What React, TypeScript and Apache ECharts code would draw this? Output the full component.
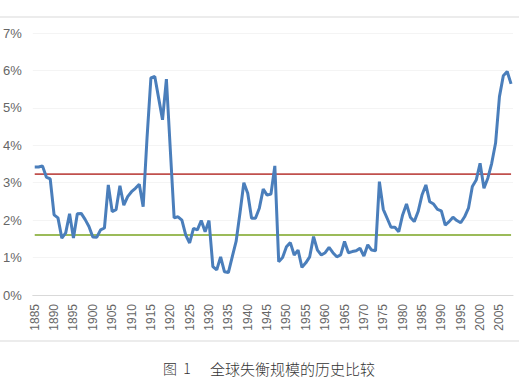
import React, { useEffect, useRef } from "react";
import * as echarts from "echarts";

const years: string[] = [];
for (let y = 1885; y <= 2008; y++) years.push(String(y));

const imbalance: number[] = [
  3.42, 3.42, 3.45, 3.15, 3.10, 2.14, 2.06, 1.52, 1.66, 2.17,
  1.52, 2.17, 2.18, 2.02, 1.83, 1.55, 1.54, 1.74, 1.79, 2.94,
  2.23, 2.28, 2.92, 2.40, 2.63, 2.76, 2.85, 2.96, 2.36, 4.20,
  5.80, 5.84, 5.26, 4.68, 5.77, 3.90, 2.06, 2.09, 2.00, 1.60,
  1.39, 1.78, 1.74, 1.99, 1.69, 1.99, 0.76, 0.67, 1.02, 0.62,
  0.60, 1.02, 1.43, 2.19, 3.00, 2.72, 2.05, 2.05, 2.32, 2.83,
  2.67, 2.70, 3.45, 0.89, 1.00, 1.29, 1.40, 1.07, 1.20, 0.74,
  0.86, 1.02, 1.56, 1.20, 1.07, 1.13, 1.27, 1.13, 1.02, 1.07,
  1.43, 1.13, 1.16, 1.18, 1.25, 1.04, 1.34, 1.20, 1.18, 3.03,
  2.29, 2.05, 1.81, 1.81, 1.69, 2.14, 2.43, 2.08, 1.96, 2.23,
  2.67, 2.94, 2.49, 2.43, 2.29, 2.25, 1.87, 1.96, 2.08, 1.99,
  1.93, 2.09, 2.32, 2.90, 3.07, 3.52, 2.85, 3.12, 3.52, 4.06,
  5.30, 5.86, 5.97, 5.64,
];

const upperLevel = 3.23;
const lowerLevel = 1.6;

const captionPrefix = "图  1";
const captionText = "全球失衡规模的历史比较";

export default function App() {
  const ref = useRef<HTMLDivElement>(null);

  useEffect(() => {
    if (!ref.current) return;
    const chart = echarts.init(ref.current, null, { renderer: "svg" });
    const first = years[0];
    const last = years[years.length - 1];
    chart.setOption({
      animation: false,
      backgroundColor: "#ffffff",
      grid: { left: 26, right: 6, top: 33, bottom: 85 },
      xAxis: {
        type: "category",
        data: years,
        boundaryGap: true,
        axisLine: { lineStyle: { color: "#d9d9d9", width: 1 } },
        axisTick: { show: false },
        axisLabel: {
          interval: 4,
          rotate: 90,
          margin: 9,
          color: "#666666",
          fontSize: 12,
          fontFamily: "Liberation Sans",
        },
        splitLine: { show: false },
      },
      yAxis: {
        type: "value",
        min: 0,
        max: 7,
        interval: 1,
        axisLine: { show: false },
        axisTick: { show: false },
        axisLabel: {
          formatter: "{value}%",
          margin: 11,
          color: "#666666",
          fontSize: 13,
          fontFamily: "Liberation Sans",
        },
        splitLine: { lineStyle: { color: "#f4f4f4", width: 1 } },
      },
      series: [
        {
          type: "line",
          data: imbalance,
          symbol: "none",
          lineStyle: { color: "#4a7ebb", width: 3 },
          z: 3,
          markLine: {
            silent: true,
            symbol: "none",
            label: { show: false },
            data: [
              [
                { coord: [first, upperLevel], lineStyle: { color: "#c0504d", width: 1.75, type: "solid" } },
                { coord: [last, upperLevel] },
              ],
              [
                { coord: [first, lowerLevel], lineStyle: { color: "#9bbb59", width: 2, type: "solid" } },
                { coord: [last, lowerLevel] },
              ],
            ],
            z: 2,
          },
        },
      ],
      graphic: [
        {
          type: "line",
          shape: { x1: 0, y1: 17, x2: 519, y2: 17 },
          style: { stroke: "#d9d9d9", lineWidth: 1 },
        },
        {
          type: "line",
          shape: { x1: 0, y1: 341, x2: 519, y2: 341 },
          style: { stroke: "#d9d9d9", lineWidth: 1 },
        },
        {
          type: "text",
          x: 163,
          y: 368,
          style: {
            text: captionPrefix,
            fontSize: 14,
            fontFamily: "Noto Sans CJK SC",
            fontWeight: 300,
            fill: "#333333",
            verticalAlign: "middle",
          },
        },
        {
          type: "text",
          x: 210,
          y: 368,
          style: {
            text: captionText,
            fontSize: 15,
            fontFamily: "Noto Sans CJK SC",
            fontWeight: 300,
            fill: "#333333",
            verticalAlign: "middle",
          },
        },
      ],
    });
    return () => chart.dispose();
  }, []);

  return (
    <div
      ref={ref}
      style={{ position: "fixed", left: 0, top: 0, width: 519, height: 380 }}
    />
  );
}
